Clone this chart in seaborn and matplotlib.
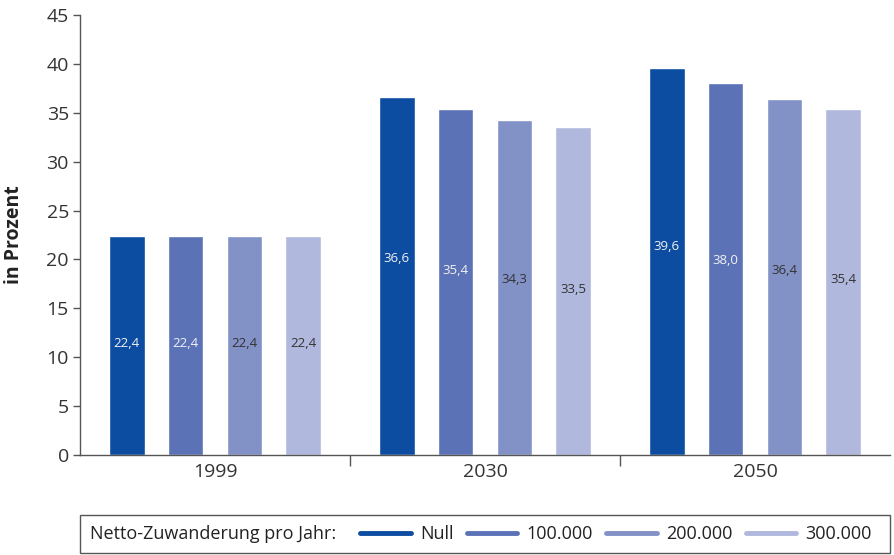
import pandas as pd
import matplotlib.pyplot as plt
import seaborn as sns
from matplotlib.lines import Line2D
from matplotlib.patches import Rectangle

# data
years = ["1999", "2030", "2050"]
scenarios = ["Null", "100.000", "200.000", "300.000"]
values_null = [22.4, 36.6, 39.6]
values_100k = [22.4, 35.4, 38.0]
values_200k = [22.4, 34.3, 36.4]
values_300k = [22.4, 33.5, 35.4]

# height at which the value labels sit inside the bars
label_y_null = [11.4, 20.1, 21.3]
label_y_100k = [11.4, 18.9, 19.9]
label_y_200k = [11.4, 17.9, 18.9]
label_y_300k = [11.4, 16.9, 17.9]

colors = ["#0c4ca1", "#5b72b6", "#8291c6", "#b0b8dd"]
label_colors = ["#f2f2f2", "#f2f2f2", "#333333", "#333333"]

series = [values_null, values_100k, values_200k, values_300k]
label_ys = [label_y_null, label_y_100k, label_y_200k, label_y_300k]

rows = []
for name, vals in zip(scenarios, series):
    for year, v in zip(years, vals):
        rows.append({"Jahr": year, "Szenario": name, "Wert": v})
df = pd.DataFrame(rows)

sns.set_style("white")
plt.rcParams["font.family"] = ["Open Sans", "DejaVu Sans"]

fig = plt.figure(figsize=(8.95, 5.55), dpi=100)
ax = fig.add_axes([80 / 895, 100 / 555, 810 / 895, 440 / 555])

sns.barplot(data=df, x="Jahr", y="Wert", hue="Szenario", order=years,
            hue_order=scenarios, palette=colors, width=0.874, gap=0.39,
            saturation=1, legend=False, ax=ax)

# value labels
for cont, ys, tc in zip(ax.containers, label_ys, label_colors):
    for bar, y in zip(cont, ys):
        v = bar.get_height()
        ax.text(bar.get_x() + bar.get_width() / 2, y, f"{v:.1f}".replace(".", ","),
                ha="center", va="center", fontsize=9.5, color=tc)

ax.set_xlim(-0.5, 2.5)
ax.set_ylim(0, 45)
ax.set_yticks(range(0, 46, 5))
ax.set_xlabel("")
ax.set_ylabel("in Prozent", fontsize=14, fontweight="bold", color="#222222")
ax.yaxis.set_label_coords(-56 / 810, 0.5)

for side in ["top", "right"]:
    ax.spines[side].set_visible(False)
for side in ["left", "bottom"]:
    ax.spines[side].set_color("#555555")
    ax.spines[side].set_linewidth(1)

ax.tick_params(axis="y", direction="out", length=5, width=1, color="#555555",
               labelsize=14, labelcolor="#333333", left=True, pad=3)
ax.tick_params(axis="x", which="major", length=0, labelsize=14,
               labelcolor="#333333", pad=6)
ax.set_xticks([0.5, 1.5], minor=True)
ax.tick_params(axis="x", which="minor", direction="out", length=8, width=1,
               color="#555555", bottom=True)

# legend box below the chart
fig.patches.append(Rectangle((80 / 895, 2 / 555), 810 / 895, 38 / 555,
                             transform=fig.transFigure, fill=False,
                             edgecolor="#555555", linewidth=1))
fig.text(90 / 895, 21 / 555, "Netto-Zuwanderung pro Jahr:", fontsize=13,
         color="#222222", va="center", ha="left")
handles = [Line2D([0], [0], color=c, linewidth=3.5) for c in colors]
fig.legend(handles, scenarios, loc="center left", bbox_to_anchor=(344 / 895, 21 / 555),
           ncol=4, frameon=False, fontsize=13, handlelength=2.8,
           columnspacing=0.75, handletextpad=0.5, labelcolor="#222222")

fig.savefig("out.png", dpi=100)
